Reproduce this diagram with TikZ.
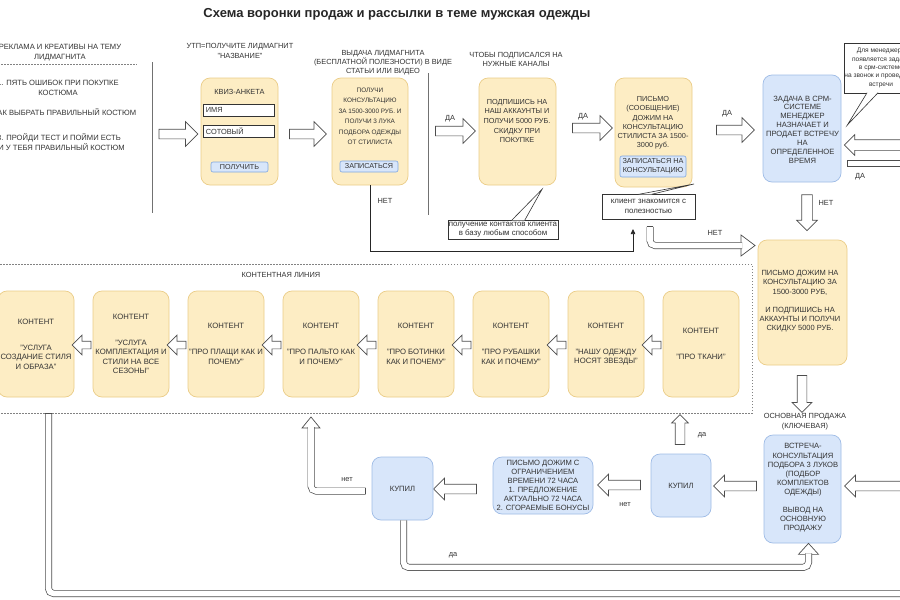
\documentclass[tikz,border=0pt]{standalone}
\usepackage{fontspec}
\setmainfont{Liberation Sans}
\usetikzlibrary{shapes.arrows,arrows.meta,calc}
\definecolor{yfill}{HTML}{FDEDC4}
\definecolor{ydraw}{HTML}{EBCD88}
\definecolor{bfill}{HTML}{D8E6FA}
\definecolor{bdraw}{HTML}{9FBCE6}
\definecolor{btnd}{HTML}{7EA6E0}
\definecolor{txt}{HTML}{333333}
\definecolor{ln}{HTML}{4D4D4D}
\newcommand\myfs[2]{\fontsize{#1}{#2}\selectfont}
\newcommand\BlkArr[6]{\node[blk, rotate=#3, minimum height=#4pt, text height=#5pt, single arrow head extend=#6pt] (#1) at (#2) {};}
\tikzset{
  lbl/.style={text=txt, font=\myfs{7.4}{9.3}, align=center, inner sep=0pt},
  ybox/.style={draw=ydraw, fill=yfill, rounded corners=9pt, line width=0.7pt, inner sep=0pt},
  bbox/.style={draw=bdraw, fill=bfill, rounded corners=9pt, line width=0.7pt, inner sep=0pt},
  cbox/.style={ybox, text=txt, font=\myfs{7.7}{9.5}, align=center},
  kbox/.style={bbox, text=txt, font=\myfs{7.6}{9}, align=center},
  btn/.style={draw=btnd, fill=bfill, rounded corners=2pt, line width=0.6pt, inner sep=0pt, text=txt, font=\myfs{7.2}{8.8}, align=center},
  field/.style={draw=txt, fill=white, line width=0.6pt, inner sep=0pt},
  blk/.style={single arrow, draw=ln, fill=white, line width=0.7pt, inner sep=0pt, outer sep=0pt, text depth=0pt, single arrow head indent=0pt},
  fbody/.style={draw=ln, line width=0.7pt, double=white, double distance=5.6pt, rounded corners=5pt},
  fhead/.style={draw=ln, line width=0.7pt, fill=white, line join=miter},
  fcap/.style={draw=ln, line width=0.7pt},
  divider/.style={draw=ln!80, line width=0.8pt},
  dotline/.style={draw=ln!70, line width=0.6pt, dash pattern=on 1.5pt off 1.5pt},
  callout/.style={draw=txt, fill=white, line width=0.6pt, text=txt, align=center, inner sep=0pt, font=\myfs{7.9}{9.5}},
  ctail/.style={draw=txt, line width=0.6pt, line join=miter},
  conn/.style={draw=black!85, line width=0.7pt, -{Triangle[length=5pt,width=4.5pt]}},
  sz/.style 2 args={minimum width=#1pt, minimum height=#2pt},
}
\begin{document}
\begin{tikzpicture}[x=1pt,y=-1pt]
\useasboundingbox (0,0) rectangle (900,600);
\fill[white] (0,0) rectangle (900,600);

% title
\node[font=\bfseries\myfs{13}{15}, text=black!85, inner sep=0pt] (title) at (397,14) {Схема воронки продаж и рассылки в теме мужская одежды};

% left column
\node[lbl, font=\myfs{7.6}{10}] (adl) at (60,53) {РЕКЛАМА И КРЕАТИВЫ НА ТЕМУ\\ЛИДМАГНИТА};
\coordinate (dl1) at (-5,64); \coordinate (dl2) at (137,64);
\draw[dotline] (dl1) -- (dl2);
\node[lbl, font=\myfs{7.6}{10}] (ad1) at (58,88) {1. ПЯТЬ ОШИБОК ПРИ ПОКУПКЕ\\КОСТЮМА};
\node[lbl, font=\myfs{7.6}{10}] (ad2) at (60,112) {2. КАК ВЫБРАТЬ ПРАВИЛЬНЫЙ КОСТЮМ};
\node[lbl, font=\myfs{7.6}{10}] (ad3) at (59,142) {3. ПРОЙДИ ТЕСТ И ПОЙМИ ЕСТЬ\\ЛИ У ТЕБЯ ПРАВИЛЬНЫЙ КОСТЮМ};

% dividers
\coordinate (v1a) at (152,62); \coordinate (v1b) at (152,213);
\draw[divider] (v1a) -- (v1b);
\coordinate (v2a) at (428,73); \coordinate (v2b) at (428,215);
\draw[divider] (v2a) -- (v2b);

% row 1
\BlkArr{a1}{176,134}{0}{39}{9}{7.5}
\node[ybox, sz={77}{107}] (quiz) at (239.5,131.5) {};
\node[lbl] (quizt) at (239.5,92) {КВИЗ-АНКЕТА};
\node[field, sz={71}{12}] (f1) at (238.5,110) {};
\node[lbl, anchor=west] (f1t) at ($(f1.west)+(3,0)$) {ИМЯ};
\node[field, sz={71}{12}] (f2) at (238.5,131) {};
\node[lbl, anchor=west] (f2t) at ($(f2.west)+(3,0)$) {СОТОВЫЙ};
\node[btn, sz={57}{10}] (get) at (239.5,167) {ПОЛУЧИТЬ};
\node[lbl, font=\myfs{7.4}{10}] (utp) at (240,51) {УТП=ПОЛУЧИТЕ ЛИДМАГНИТ\\"НАЗВАНИЕ"};

\BlkArr{a2}{305.5,134}{0}{37}{9}{7.5}
\node[ybox, sz={76}{107}] (lead) at (370,131.5) {};
\node[lbl, font=\myfs{6.4}{10.5}] (leadt) at (370,116.5) {ПОЛУЧИ\\КОНСУЛЬТАЦИЮ\\ЗА 1500-3000 РУБ. И\\ПОЛУЧИ 3 ЛУКА\\ПОДБОРА ОДЕЖДЫ\\ОТ СТИЛИСТА};
\node[btn, sz={58}{11}] (sign) at (369,166.5) {ЗАПИСАТЬСЯ};
\node[lbl, font=\myfs{7.4}{9}] (leadl) at (383,63) {ВЫДАЧА ЛИДМАГНИТА\\(БЕСПЛАТНОЙ ПОЛЕЗНОСТИ) В ВИДЕ\\СТАТЬИ ИЛИ ВИДЕО};

\BlkArr{a3}{453,131}{0}{40}{9}{7.5}
\node[lbl] (a3l) at (450,119) {ДА};
\node[ybox, sz={77}{107}] (subs) at (517.5,131.5) {};
\node[lbl, font=\myfs{7.3}{9.6}] (subst) at (517,121) {ПОДПИШИСЬ НА\\НАШ АККАУНТЫ И\\ПОЛУЧИ 5000 РУБ.\\СКИДКУ ПРИ\\ПОКУПКЕ};
\node[lbl] (subsl) at (516,59.5) {ЧТОБЫ ПОДПИСАЛСЯ НА\\НУЖНЫЕ КАНАЛЫ};

% callout 1
\node[callout, sz={110}{19}] (cal1) at (503,229.5) {получение контактов клиента\\в базу любым способом};
\coordinate (c1b1) at ($(cal1.north west)+(64,0.6)$);
\coordinate (c1b2) at ($(cal1.north west)+(77,0.6)$);
\coordinate (c1tip) at ($(subs.south)+(24.5,4)$);
\fill[white] (c1b1) -- (c1tip) -- (c1b2) -- cycle;
\draw[ctail] (c1b1) -- (c1tip) -- (c1b2);

\BlkArr{a4}{590,128}{0}{40}{9}{7.5}
\node[lbl] (a4l) at (583,117) {ДА};
\node[ybox, sz={77}{109}] (mail) at (653.5,132.5) {};
\node[lbl, font=\myfs{7.3}{9.2}] (mailt) at (653,123) {ПИСЬМО\\(СООБЩЕНИЕ)\\ДОЖИМ НА\\КОНСУЛЬТАЦИЮ\\СТИЛИСТА ЗА 1500-\\3000 руб.};
\node[btn, sz={66}{21}, font=\myfs{7.3}{9}] (signc) at (653,166.5) {ЗАПИСАТЬСЯ НА\\КОНСУЛЬТАЦИЮ};

% callout 2
\node[callout, sz={93}{25}] (cal2) at (648.5,206.5) {клиент знакомится с\\полезностью};
\coordinate (c2b1) at ($(cal2.north west)+(37,0.6)$);
\coordinate (c2b2) at ($(cal2.north west)+(50,0.6)$);
\coordinate (c2tip) at (694,184);
\fill[white] (c2b1) -- (c2tip) -- (c2b2) -- cycle;
\draw[ctail] (c2b1) -- (c2tip) -- (c2b2);

\BlkArr{a5}{733,130}{0}{38}{9}{7.5}
\node[lbl] (a5l) at (727,114) {ДА};
\node[bbox, sz={78}{107}] (crm) at (802,128.5) {};
\node[lbl, font=\myfs{7.6}{8.9}] (crmt) at (802.5,129.5) {ЗАДАЧА В СРМ-\\СИСТЕМЕ\\МЕНЕДЖЕР\\НАЗНАЧАЕТ И\\ПРОДАЕТ ВСТРЕЧУ\\НА\\ОПРЕДЕЛЕННОЕ\\ВРЕМЯ};

% callout 3
\node[callout, sz={72}{50}, font=\myfs{6.6}{8.3}] (cal3) at (881,68) {Для менеджера\\появляется задача\\в срм-системе\\на звонок и проведение\\встречи};
\coordinate (c3b1) at ($(cal3.south west)+(23,-0.6)$);
\coordinate (c3b2) at ($(cal3.south west)+(34,-0.6)$);
\coordinate (c3tip) at ($(crm.east)+(6,-3.5)$);
\fill[white] (c3b1) -- (c3tip) -- (c3b2) -- cycle;
\draw[ctail] (c3b1) -- (c3tip) -- (c3b2);

\BlkArr{a6}{882,145}{180}{70}{10}{5}
\coordinate (bar1) at (847,163.5); \coordinate (bar2) at (912,163.5);
\draw[fbody, rounded corners=0pt] (bar1) -- (bar2);
\draw[fcap] ($(bar1)+(0,-3.15)$) -- ($(bar1)+(0,3.15)$);
\node[lbl] (barl) at (860,177) {ДА};

\BlkArr{a7}{807,210}{270}{36}{10}{5}
\node[lbl] (a7l) at (826,203) {НЕТ};

% thin connector НЕТ
\coordinate (nt) at (633,229);
\draw[conn] (lead.south) -- ++(0,66) -| (nt);
\node[lbl] (ntl) at (385,201) {НЕТ};

% flex НЕТ to mail2
\coordinate (t3) at ($(cal2.south)+(1.5,7.5)$);
\coordinate (tip3) at (755,245.5);
\draw[fhead] (tip3) -- ++(-14,-10.5) -- ++(0,21) -- cycle;
\draw[fbody] (t3) |- ($(tip3)+(-13,0)$);
\draw[fcap] ($(t3)+(-3.15,0)$) -- ($(t3)+(3.15,0)$);
\node[lbl] (t3l) at (715,233) {НЕТ};

% box 6
\node[ybox, sz={89}{125}] (mail2) at (802.5,302.5) {};
\node[lbl, font=\myfs{7.5}{9.2}] (mail2t) at (800,301.5) {ПИСЬМО ДОЖИМ НА\\КОНСУЛЬТАЦИЮ ЗА\\1500-3000 РУБ,\\[9.2pt]И ПОДПИШИСЬ НА\\АККАУНТЫ И ПОЛУЧИ\\СКИДКУ 5000 РУБ.};
\BlkArr{a8}{802,391.5}{270}{37}{9}{5}
\node[lbl, font=\myfs{7.4}{10}] (mainl) at (805,422) {ОСНОВНАЯ ПРОДАЖА\\(КЛЮЧЕВАЯ)};

% box 7
\node[bbox, sz={77}{108}] (meet) at (802.5,489) {};
\node[lbl, font=\myfs{7.6}{9.1}] (meett) at (803,488) {ВСТРЕЧА-\\КОНСУЛЬТАЦИЯ\\ПОДБОРА 3 ЛУКОВ\\(ПОДБОР\\КОМПЛЕКТОВ\\ОДЕЖДЫ)\\[9.1pt]ВЫВОД НА\\ОСНОВНУЮ\\ПРОДАЖУ};
\BlkArr{a9}{882,486}{180}{70}{9}{6}
\BlkArr{a10}{737.5,486}{180}{43}{9}{6}
\node[kbox, sz={60}{63}] (buy2) at (681,485.5) {КУПИЛ};
\BlkArr{a11}{680,432}{90}{30}{9}{3.5}
\node[lbl] (a11l) at (702,435) {да};
\BlkArr{a12}{621.5,485}{180}{43}{9}{6}
\node[lbl] (a12l) at (625,505) {нет};
\node[kbox, sz={100}{57}] (offer) at (543,485.5) {ПИСЬМО ДОЖИМ С\\ОГРАНИЧЕНИЕМ\\ВРЕМЕНИ 72 ЧАСА\\1. ПРЕДЛОЖЕНИЕ\\АКТУАЛЬНО 72 ЧАСА\\2. СГОРАЕМЫЕ БОНУСЫ};
\BlkArr{a13}{457.5,489}{180}{43}{9}{6}
\node[kbox, sz={61}{63}] (buy1) at (402.5,488.5) {КУПИЛ};

% flex нет (buy1 -> content)
\coordinate (t1) at ($(buy1.west)+(-6,2.5)$);
\coordinate (n1tip) at (311,417);
\draw[fhead] (n1tip) -- ++(9,11) -- ++(-18,0) -- cycle;
\draw[fbody] (t1) -| ($(n1tip)+(0,10)$);
\draw[fcap] ($(t1)+(0,-3.15)$) -- ($(t1)+(0,3.15)$);
\node[lbl] (t1l) at (347,480) {нет};

% flex да (buy1 -> meet)
\coordinate (t2) at ($(buy1.south)+(1,0)$);
\coordinate (tip2) at ($(meet.south)+(6,0)$);
\draw[fhead] (tip2) -- ++(10,11) -- ++(-20,0) -- cycle;
\draw[fbody] (t2) |- ($(tip2)+(0,24)$) -- ($(tip2)+(0,10)$);
\node[lbl] (t2l) at (453,555) {да};

% content line
\node[dotline, sz={757}{149}, inner sep=0pt] (cline) at (373.5,338.5) {};
\node[lbl] (clinel) at (281,275) {КОНТЕНТНАЯ ЛИНИЯ};
\node[cbox, sz={76}{106}] (c1) at (36,344) {КОНТЕНТ\\[16.5pt]"УСЛУГА\\СОЗДАНИЕ СТИЛЯ\\И ОБРАЗА"};
\node[cbox, sz={76}{106}] (c2) at (131,344) {КОНТЕНТ\\[16.5pt]"УСЛУГА\\КОМПЛЕКТАЦИЯ И\\СТИЛИ НА ВСЕ\\СЕЗОНЫ"};
\node[cbox, sz={76}{106}] (c3) at (226,344) {КОНТЕНТ\\[16.5pt]"ПРО ПЛАЩИ КАК И\\ПОЧЕМУ"};
\node[cbox, sz={76}{106}] (c4) at (321,344) {КОНТЕНТ\\[16.5pt]"ПРО ПАЛЬТО КАК\\И ПОЧЕМУ"};
\node[cbox, sz={76}{106}] (c5) at (416,344) {КОНТЕНТ\\[16.5pt]"ПРО БОТИНКИ\\КАК И ПОЧЕМУ"};
\node[cbox, sz={76}{106}] (c6) at (511,344) {КОНТЕНТ\\[16.5pt]"ПРО РУБАШКИ\\КАК И ПОЧЕМУ"};
\node[cbox, sz={76}{106}] (c7) at (606,344) {КОНТЕНТ\\[16.5pt]"НАШУ ОДЕЖДУ\\НОСЯТ ЗВЕЗДЫ"};
\node[cbox, sz={76}{106}] (c8) at (701,344) {КОНТЕНТ\\[16.5pt]"ПРО ТКАНИ"};
\BlkArr{ca1}{83.5,345}{180}{19}{7}{6}
\BlkArr{ca2}{178.5,345}{180}{19}{7}{6}
\BlkArr{ca3}{273.5,345}{180}{19}{7}{6}
\BlkArr{ca4}{368.5,345}{180}{19}{7}{6}
\BlkArr{ca5}{463.5,345}{180}{19}{7}{6}
\BlkArr{ca6}{558.5,345}{180}{19}{7}{6}
\BlkArr{ca7}{653.5,345}{180}{19}{7}{6}

% big loop at the bottom
\coordinate (t4) at ($(c1.south)+(12.5,16)$);
\coordinate (loopend) at (912,593.5);
\draw[fbody] (t4) |- (loopend);
\draw[fcap] ($(t4)+(-3.15,0)$) -- ($(t4)+(3.15,0)$);
\end{tikzpicture}
\end{document}
